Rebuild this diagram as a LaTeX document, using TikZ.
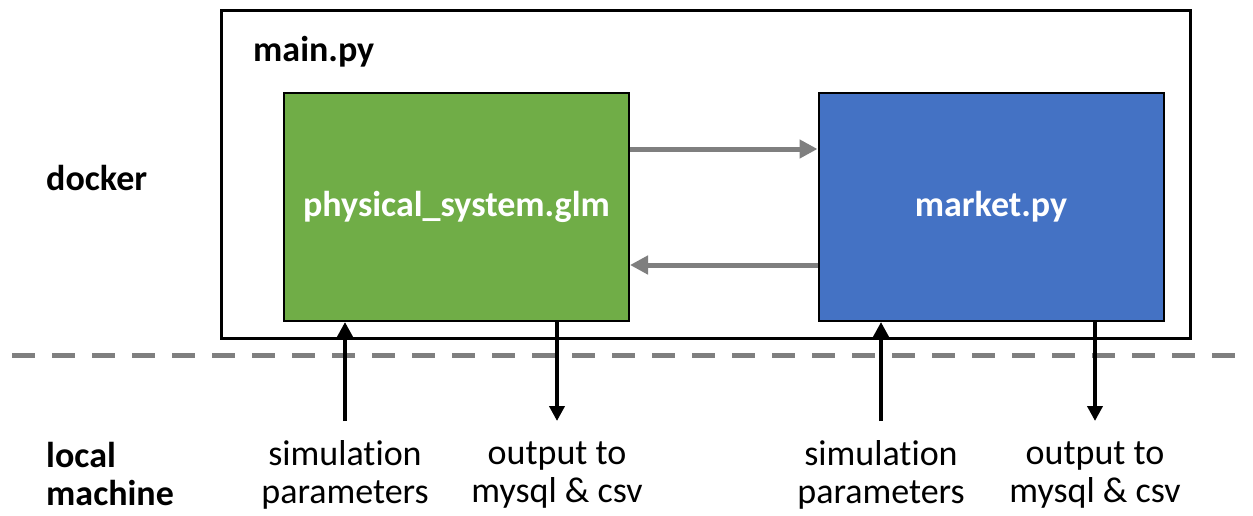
\documentclass[tikz,border=0pt]{standalone}
\usepackage{fontspec}
\setmainfont[Ligatures={NoCommon}]{Carlito}
\usetikzlibrary{arrows.meta}
\definecolor{boxgreen}{HTML}{70AD47}
\definecolor{boxblue}{HTML}{4472C4}
\definecolor{linkgray}{HTML}{7F7F7F}
\tikzset{
  lbl/.style={font=\fontsize{36}{38}\selectfont, inner sep=0pt},
  boldlbl/.style={lbl, font=\fontsize{36}{38}\selectfont\bfseries},
  module/.style={draw=black, line width=2pt, minimum width=345pt, minimum height=228pt, inner sep=0pt,
    text=white, font=\fontsize{36}{38}\selectfont\bfseries},
  link/.style={linkgray, line width=5pt, -{Triangle[length=18pt,width=18pt]}},
  io/.style={black, line width=4pt, -{Triangle[length=15pt,width=15pt]}},
}
\begin{document}
\begin{tikzpicture}[x=1pt,y=-1pt]
\useasboundingbox (0,0) rectangle (1253,515);
% main.py container
\draw[line width=3pt] (221,10) rectangle (1190,338);
\node[boldlbl, anchor=west] (mainpy) at (253,52) {main.py};
% modules
\node[module, fill=boxgreen] (phys) at (456.5,207) {physical\_system.glm};
\node[module, fill=boxblue] (market) at (991,207) {market.py};
% exchange between modules
\coordinate (p1) at (phys.east |- 0,149);
\coordinate (m1) at (market.west |- 0,149);
\coordinate (p2) at (phys.east |- 0,265);
\coordinate (m2) at (market.west |- 0,265);
\draw[link] (p1) -- (m1);
\draw[link] (m2) -- (p2);
% boundary between docker and local machine
\draw[linkgray, line width=5pt, dash pattern=on 23pt off 17pt] (12,355) -- (1245,355);
% side labels
\node[boldlbl, anchor=west] (docker) at (46,178) {docker};
\node[boldlbl, anchor=west, align=left] (local) at (46,474) {local\\machine};
% inputs and outputs
\node[lbl, align=center] (simA) at (345,475) {simulation\\parameters};
\node[lbl, align=center] (outA) at (557,475) {output to\\mysql \& csv};
\node[lbl, align=center] (simB) at (881,475) {simulation\\parameters};
\node[lbl, align=center] (outB) at (1095,475) {output to\\mysql \& csv};
\coordinate (simAtop) at (345,421);
\coordinate (outAtop) at (557,421);
\coordinate (simBtop) at (881,421);
\coordinate (outBtop) at (1095,421);
\draw[io] (simAtop) -- (simAtop |- phys.south);
\draw[io] (outAtop |- phys.south) -- (outAtop);
\draw[io] (simBtop) -- (simBtop |- market.south);
\draw[io] (outBtop |- market.south) -- (outBtop);
\end{tikzpicture}
\end{document}
